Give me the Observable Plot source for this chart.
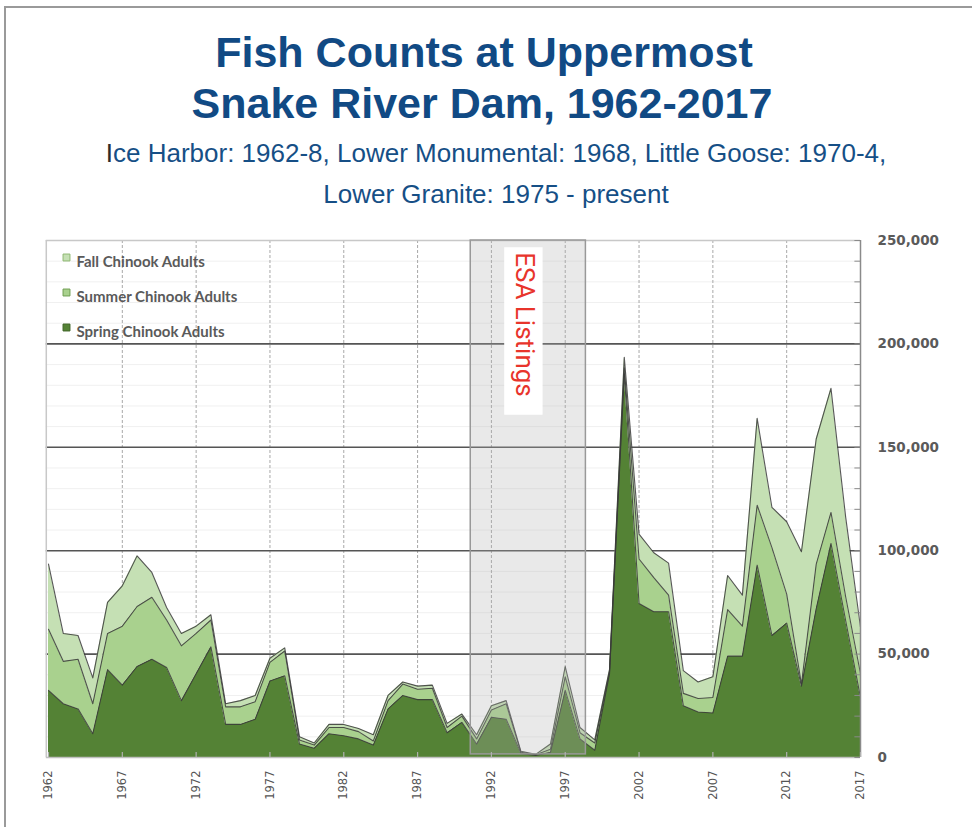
<!DOCTYPE html>
<html>
<head>
<meta charset="utf-8">
<script src="https://cdn.jsdelivr.net/npm/d3@7"></script>
<script src="https://cdn.jsdelivr.net/npm/@observablehq/plot@0.6"></script>
<style>
  html, body { margin: 0; padding: 0; background: #fff; }
  #page { position: relative; width: 972px; height: 827px; overflow: hidden; }
  #border { position: absolute; left: 4px; top: 6px; width: 980px; height: 900px;
    border-top: 2px solid #9a9a9a; border-left: 2px solid #9a9a9a; }
  .title { position: absolute; left: 0; width: 972px; text-align: center;
    font-family: "Liberation Sans Narrow", "Liberation Sans", Arial, sans-serif; font-weight: bold;
    font-size: 43px; color: #114a84; white-space: nowrap; }
  .sub { position: absolute; left: 0; width: 972px; text-align: center;
    font-family: "Liberation Sans", Arial, sans-serif; font-size: 26px; color: #164f86; white-space: nowrap; }
  #chart { position: absolute; left: 0; top: 230px; }
</style>
</head>
<body>
<div id="page">
  <div id="border"></div>
  <div class="title" style="top:28px; left:-2px;">Fish Counts at Uppermost</div>
  <div class="title" style="top:79px; left:-4px;">Snake River Dam, 1962-2017</div>
  <div class="sub" style="top:138px; left:10px;"><span style="color:#2b2b2b">I</span>ce Harbor: 1962-8, Lower Monumental: 1968, Little Goose: 1970-4,</div>
  <div class="sub" style="top:179px; left:10px;">Lower Granite: 1975 - present</div>
  <div id="chart"></div>
</div>
<script>
const years = d3.range(1962, 2018);
const springCounts = [32500,26000,23500,11500,42500,35000,44000,47500,43500,27500,
  40500,53500,16000,16000,18500,37000,39500,6500,4500,11500,
  10500,9000,6000,23500,30000,28000,28000,12000,17000,6500,
  19500,18500,2000,1000,2500,32500,9000,3500,40500,185500,
  74500,70500,70500,25000,22000,21500,49000,49000,93000,59000,
  65000,34500,72000,103500,66000,29000];
const summerCounts = [29500,20500,24000,14500,17500,28500,29000,30000,23000,26500,
  19500,13000,8500,8500,8500,9000,12000,2000,1500,3000,
  4000,3500,2000,4000,5500,5000,5500,2500,3000,2500,
  3500,7500,500,300,1500,6500,3000,3500,1000,3000,
  21500,16500,8000,6000,6500,7500,22500,14500,29000,42500,
  14000,1000,21500,15000,11500,11500];
const fallCounts = [31500,13500,11500,12500,15000,19500,24500,12000,6000,6000,
  3500,2500,1500,3000,3000,2000,1500,1500,1000,1500,
  1500,1500,3000,2500,1000,1500,1500,2000,1000,2000,
  2000,1500,500,200,2500,5000,2500,1500,1000,5000,
  12000,12000,15500,11000,8000,10000,16500,15000,42000,19500,
  35000,64000,60500,60000,38500,22500];

const runs = ["Spring", "Summer", "Fall"];
const runLabels = ["Fall Chinook Adults", "Summer Chinook Adults", "Spring Chinook Adults"];
const runLegendKeys = ["Fall", "Summer", "Spring"];
const runColors = ["#548235", "#a9d18e", "#c5e0b4"];
const yTicks = [0, 50000, 100000, 150000, 200000, 250000];
const xTicks = d3.range(1962, 2018, 5);
const esaStart = 1990.6, esaEnd = 1998.4;
const esaLabel = "ESA Listings";

const rows = [];
years.forEach((yr, i) => {
  rows.push({year: yr, run: "Spring", count: springCounts[i]});
  rows.push({year: yr, run: "Summer", count: summerCounts[i]});
  rows.push({year: yr, run: "Fall", count: fallCounts[i]});
});

const color = {domain: runs, range: runColors};
const legendBorder = {Fall: "#8fb873", Summer: "#6f9e52", Spring: "#3e6426"};

const legendMarks = runLegendKeys.flatMap((k, i) => [
  Plot.dot([k], {frameAnchor: "top-left", dx: 18, dy: 17 + 35 * i, symbol: "square", r: 3.9,
    fill: d => d, stroke: legendBorder[k], strokeWidth: 1}),
  Plot.text([runLabels[i]], {frameAnchor: "top-left", dx: 28, dy: 16 + 35 * i, text: d => d,
    textAnchor: "start", fill: "#5a5a5a", fontSize: 15, fontWeight: "bold",
    fontFamily: "Lato, sans-serif"})
]);

const chart = Plot.plot({
  width: 972, height: 597,
  marginTop: 10, marginBottom: 70, marginLeft: 48, marginRight: 112,
  x: {domain: [1962, 2017], axis: null},
  y: {domain: [0, 250000], axis: null},
  color,
  style: {background: "transparent", overflow: "visible"},
  marks: [
    Plot.ruleY(d3.range(10000, 250000, 10000), {stroke: "#f0f0f0", strokeWidth: 1, x1: 1961.85, x2: 2017}),
    Plot.ruleX(xTicks.slice(1, -1), {stroke: "#a8a8a8", strokeDasharray: "3,2", strokeWidth: 1}),
    Plot.ruleY(yTicks.slice(1, -1), {stroke: "#555", strokeWidth: 1.6, x1: 1961.85, x2: 2017}),
    Plot.ruleY([250000], {stroke: "#c8c8c8", strokeWidth: 1.5, x1: 1961.85, x2: 2017}),
    Plot.ruleX([1961.85], {stroke: "#c8c8c8", strokeWidth: 1.5}),
    Plot.areaY(rows, {x: "year", y: "count", z: "run", fill: "run", order: runs, curve: "linear"}),
    Plot.lineY(rows, Plot.stackY2({x: "year", y: "count", z: "run", order: runs, stroke: "#3a3a3a", strokeWidth: 1.1, strokeOpacity: 0.85})),
    Plot.rectY([{a: esaStart, b: esaEnd}], {x1: "a", x2: "b", y1: 1500, y2: 250000, fill: "#b0b0b0", fillOpacity: 0.28, stroke: "#999", strokeWidth: 1.5}),
    Plot.rectY([esaLabel], {x1: 1992.9, x2: 1995.5, y1: 165500, y2: 246500, fill: "white"}),
    Plot.text([esaLabel], {x: (1992.9 + 1995.5) / 2, y: 209400, text: d => d, rotate: 90, fill: "#e8342b",
      fontSize: 26, fontFamily: "Roboto, sans-serif", fontWeight: 400}),
    // axes lines
    Plot.ruleX([2017], {stroke: "#8a8a8a", strokeWidth: 1.5}),
    Plot.ruleY([0], {stroke: "#c0c0c0", strokeWidth: 1.5, x1: 1961.85, x2: 2017}),
    Plot.ruleY(d3.range(0, 250001, 10000), {x1: 2016.62, x2: 2017, stroke: "#8a8a8a", strokeWidth: 1}),
    Plot.ruleX(xTicks, {y1: 0, y2: 2400, stroke: "#b0b0b0", strokeWidth: 1.2}),
    Plot.axisY({anchor: "right", ticks: yTicks, tickSize: 0, tickPadding: 17, tickFormat: d3.format(","),
      fontSize: 13.5, fontWeight: "bold", fill: "#5a5a5a", fontFamily: "DejaVu Sans, sans-serif", textAnchor: "start", label: null}),
    Plot.axisX({ticks: xTicks, tickSize: 0, tickPadding: 13, tickRotate: -90, tickFormat: d => String(d),
      fontSize: 11.5, fill: "#555", fontFamily: "DejaVu Sans, sans-serif", label: null}),
    ...legendMarks
  ]
});
document.getElementById("chart").appendChild(chart);
</script>
</body>
</html>
